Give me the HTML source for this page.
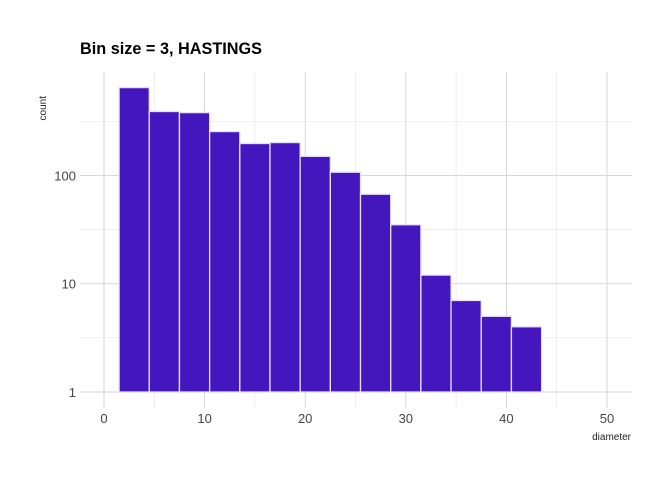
<!DOCTYPE html>
<html><head><meta charset="utf-8"><style>
body{margin:0;background:#fff;font-family:"Liberation Sans",sans-serif}
</style></head><body>
<svg id="c" width="672" height="480" xmlns="http://www.w3.org/2000/svg">
<text x="80" y="54" font-size="17" font-weight="bold" fill="#000" textLength="182" lengthAdjust="spacingAndGlyphs">Bin size = 3, HASTINGS</text>
<text transform="translate(46,96) rotate(-90)" font-size="10" fill="#222" text-anchor="end">count</text>
<text x="631" y="440" font-size="10" fill="#222" text-anchor="end">diameter</text>
<g id="grid"></g><g id="bars"></g><g id="ticks"></g>
</svg>
<script>
const binStarts=[1.5,4.5,7.5,10.5,13.5,16.5,19.5,22.5,25.5,28.5,31.5,34.5,37.5,40.5];
const counts=[647,389,380,254,197,201,150,107,67,35,12,7,5,4];
const binWidth=3;
const xTicks=[0,10,20,30,40,50];
const yTicks=[1,10,100];
const NS="http://www.w3.org/2000/svg";
const px0=80,px1=632,py0=72,py1=408;
function xs(v){return 104+v*10.06;}
function ys(v){return 392-Math.log10(v)*108.3;}
function mk(t,a,p){const e=document.createElementNS(NS,t);for(const k in a)e.setAttribute(k,a[k]);p.appendChild(e);return e;}
const g=document.getElementById('grid'),b=document.getElementById('bars'),tk=document.getElementById('ticks');
for(let v=0;v<=55;v+=5){const x=xs(v);if(x>px1)break;
 const l=mk('line',{x1:x,x2:x,y1:py0,y2:py1,stroke:v%10?'#e2e2e2':'#d2d2d2','stroke-width':v%10?0.6:0.9},g);
 }
for(let d=0;d<=3;d+=0.5){const y=ys(Math.pow(10,d));if(y<py0)break;
 const l=mk('line',{x1:px0,x2:px1,y1:y,y2:y,stroke:d%1?'#e2e2e2':'#d2d2d2','stroke-width':d%1?0.6:0.9},g);
 }
binStarts.forEach((s,i)=>{const x=xs(s),w=xs(s+binWidth)-x,y=ys(counts[i]);
 const r=mk('rect',{x:x,y:y,width:w,height:ys(1)-y,fill:'#4316be',stroke:'#e6e0f2','stroke-width':1.3},b);
 });
xTicks.forEach(v=>{const t=mk('text',{x:xs(v),y:423,'font-size':13,fill:'#444','text-anchor':'middle'},tk);t.textContent=v;
 });
yTicks.forEach(v=>{const t=mk('text',{x:76,y:ys(v)+5,'font-size':13,fill:'#444','text-anchor':'end'},tk);t.textContent=v;
 });
</script>
</body></html>
